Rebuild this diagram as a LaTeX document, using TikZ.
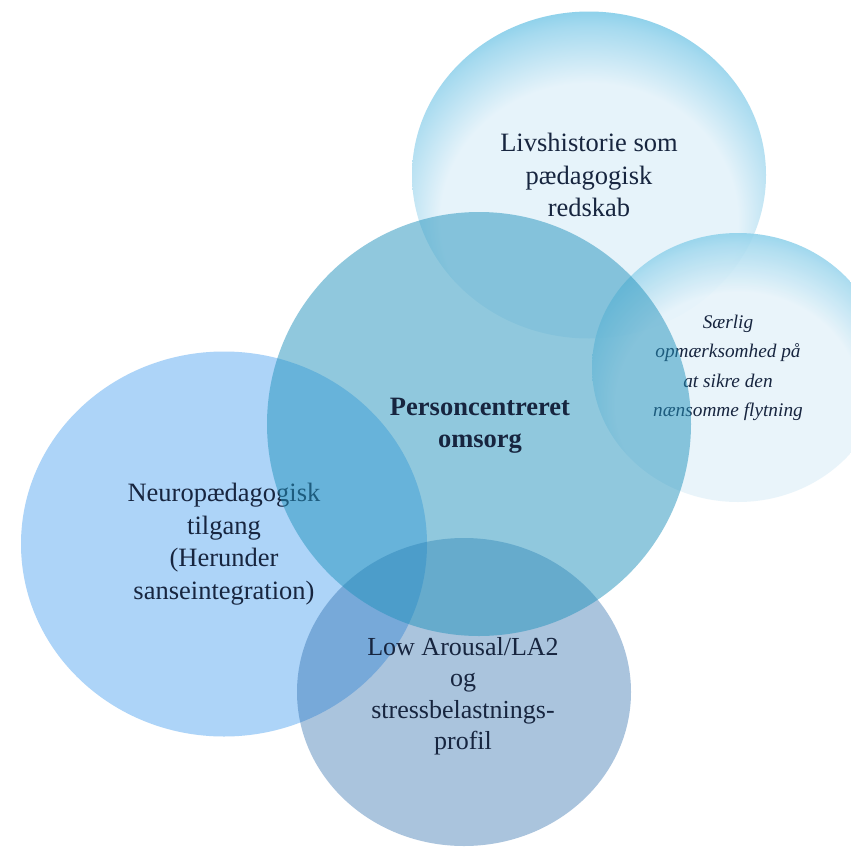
\documentclass[tikz,border=0pt]{standalone}
\usepackage{fontspec}
\setmainfont{Liberation Serif}
\usetikzlibrary{shapes.geometric}
\definecolor{txt}{HTML}{17253F}
\definecolor{bubin}{HTML}{E6F3FA}
\definecolor{bubmid}{HTML}{A6DAEF}
\definecolor{bubout}{HTML}{5CBEE1}
\definecolor{leftc}{HTML}{ADD4F8}
\definecolor{midc}{RGB}{35,147,189}
\definecolor{botc}{RGB}{32,100,168}
\pgfdeclareradialshading{bubble}{\pgfpoint{0bp}{-12bp}}{color(0bp)=(bubin); color(21bp)=(bubin); color(28bp)=(bubmid); color(34bp)=(bubout); color(50bp)=(bubout)}
\tikzset{
  blob/.style={ellipse, inner sep=0pt, outer sep=0pt, draw=none},
  bubbleblob/.style={blob, shading=bubble},
  lbl/.style={text=txt, align=center, inner sep=0pt},
  big/.style={font=\fontsize{26.5}{32.5}\selectfont},
}
\begin{document}
\begin{tikzpicture}[x=1pt,y=-1pt]
\useasboundingbox (0,0) rectangle (851,846);
\clip (0,0) rectangle (851,846);
\fill[white] (0,0) rectangle (851,846);
% left circle
\node[blob, fill=leftc, minimum width=406pt, minimum height=385pt] (cleft) at (224,544) {};
\node[lbl, big] (tleft) at (cleft.center) {Neuropædagogisk\\tilgang\\(Herunder\\sanseintegration)};
% top circle
\node[bubbleblob, minimum width=354pt, minimum height=327pt] (ctop) at (589,175) {};
\node[lbl, big] (ttop) at (ctop.center) {Livshistorie som\\pædagogisk\\redskab};
% right circle
\node[bubbleblob, opacity=0.88, minimum width=292pt, minimum height=269pt] (cright) at (738,367.5) {};
\node[lbl, font=\fontsize{19.3}{29.5}\selectfont\itshape] (tright) at (728,368) {Særlig\\opmærksomhed på\\at sikre den\\nænsomme flytning};
% bottom circle
\node[blob, fill=botc, fill opacity=0.38, minimum width=334pt, minimum height=308pt] (cbot) at (464,692) {};
\node[lbl, font=\fontsize{26}{31.5}\selectfont] (tbot) at (463,696) {Low Arousal/LA2\\og\\stressbelastnings-\\profil};
% middle circle
\node[blob, fill=midc, fill opacity=0.5, minimum width=424pt, minimum height=424pt] (cmid) at (479,424) {};
\node[lbl, font=\fontsize{26.5}{32}\selectfont\bfseries] (tmid) at (480,426) {Personcentreret\\omsorg};
\end{tikzpicture}
\end{document}
